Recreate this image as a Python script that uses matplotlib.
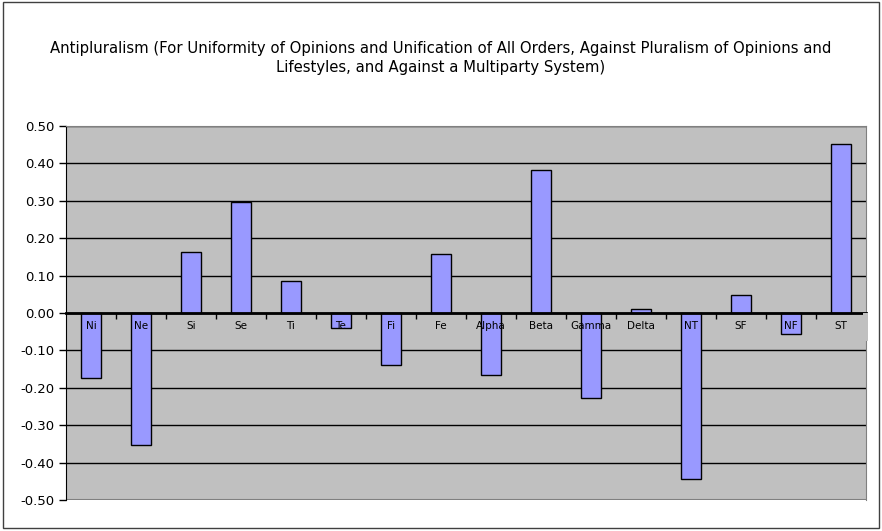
import matplotlib.pyplot as plt
from matplotlib.patches import Rectangle
from matplotlib.ticker import MultipleLocator, FormatStrFormatter

# categories and their scores
categories = ["Ni", "Ne", "Si", "Se", "Ti", "Te", "Fi", "Fe", "Alpha", "Beta",
              "Gamma", "Delta", "NT", "SF", "NF", "ST"]
values = [-0.173, -0.352, 0.164, 0.297, 0.086, -0.040, -0.138, 0.158, -0.167,
          0.383, -0.226, 0.012, -0.445, 0.049, -0.055, 0.452]

title = ("Antipluralism (For Uniformity of Opinions and Unification of All Orders, "
         "Against Pluralism of Opinions and\nLifestyles, and Against a Multiparty System)")

fig = plt.figure(figsize=(8.82, 5.31), dpi=100)
ax = fig.add_axes([0.0748, 0.0584, 0.907, 0.7043])
ax.set_facecolor("#c0c0c0")

x = list(range(len(categories)))
ax.bar(x, values, width=0.4, color="#9999ff", edgecolor="black", linewidth=1, zorder=3)

ax.set_xlim(-0.5, len(categories) - 0.5)
ax.set_ylim(-0.5, 0.5)
ax.yaxis.set_major_locator(MultipleLocator(0.1))
ax.yaxis.set_major_formatter(FormatStrFormatter("%.2f"))
ax.tick_params(axis="y", labelsize=9.5, length=5, direction="out", width=1)
ax.grid(axis="y", color="black", linewidth=1, zorder=1)

# category axis sits on the zero line
ax.spines["bottom"].set_position(("data", 0))
ax.spines["bottom"].set_linewidth(2)
ax.spines["bottom"].set_zorder(4)
ax.set_xticks([i + 0.5 for i in x[:-1]])
ax.set_xticklabels([])
ax.tick_params(axis="x", length=4, direction="out", width=1)
for i, c in enumerate(categories):
    ax.text(i, -0.035, c, ha="center", va="center", fontsize=7.5, zorder=5)

for s in ["top", "right"]:
    ax.spines[s].set_color("#808080")
ax.spines["left"].set_color("black")

# plot-area bottom border (bottom spine is on the zero line)
ax.axhline(-0.5, color="#808080", linewidth=1.5, zorder=2)
# label band covers the right border below zero
ax.add_patch(Rectangle((len(categories) - 0.55, -0.075), 0.1, 0.074,
                       facecolor="#c0c0c0", edgecolor="none", clip_on=False, zorder=6))

fig.text(0.5, 0.891, title, ha="center", va="center", fontsize=10.7, linespacing=1.3)

# outer frame
fig.add_artist(Rectangle((0.003, 0.006), 0.994, 0.99, transform=fig.transFigure,
                         fill=False, edgecolor="#404040", linewidth=1))

fig.savefig("out.png", dpi=100)
